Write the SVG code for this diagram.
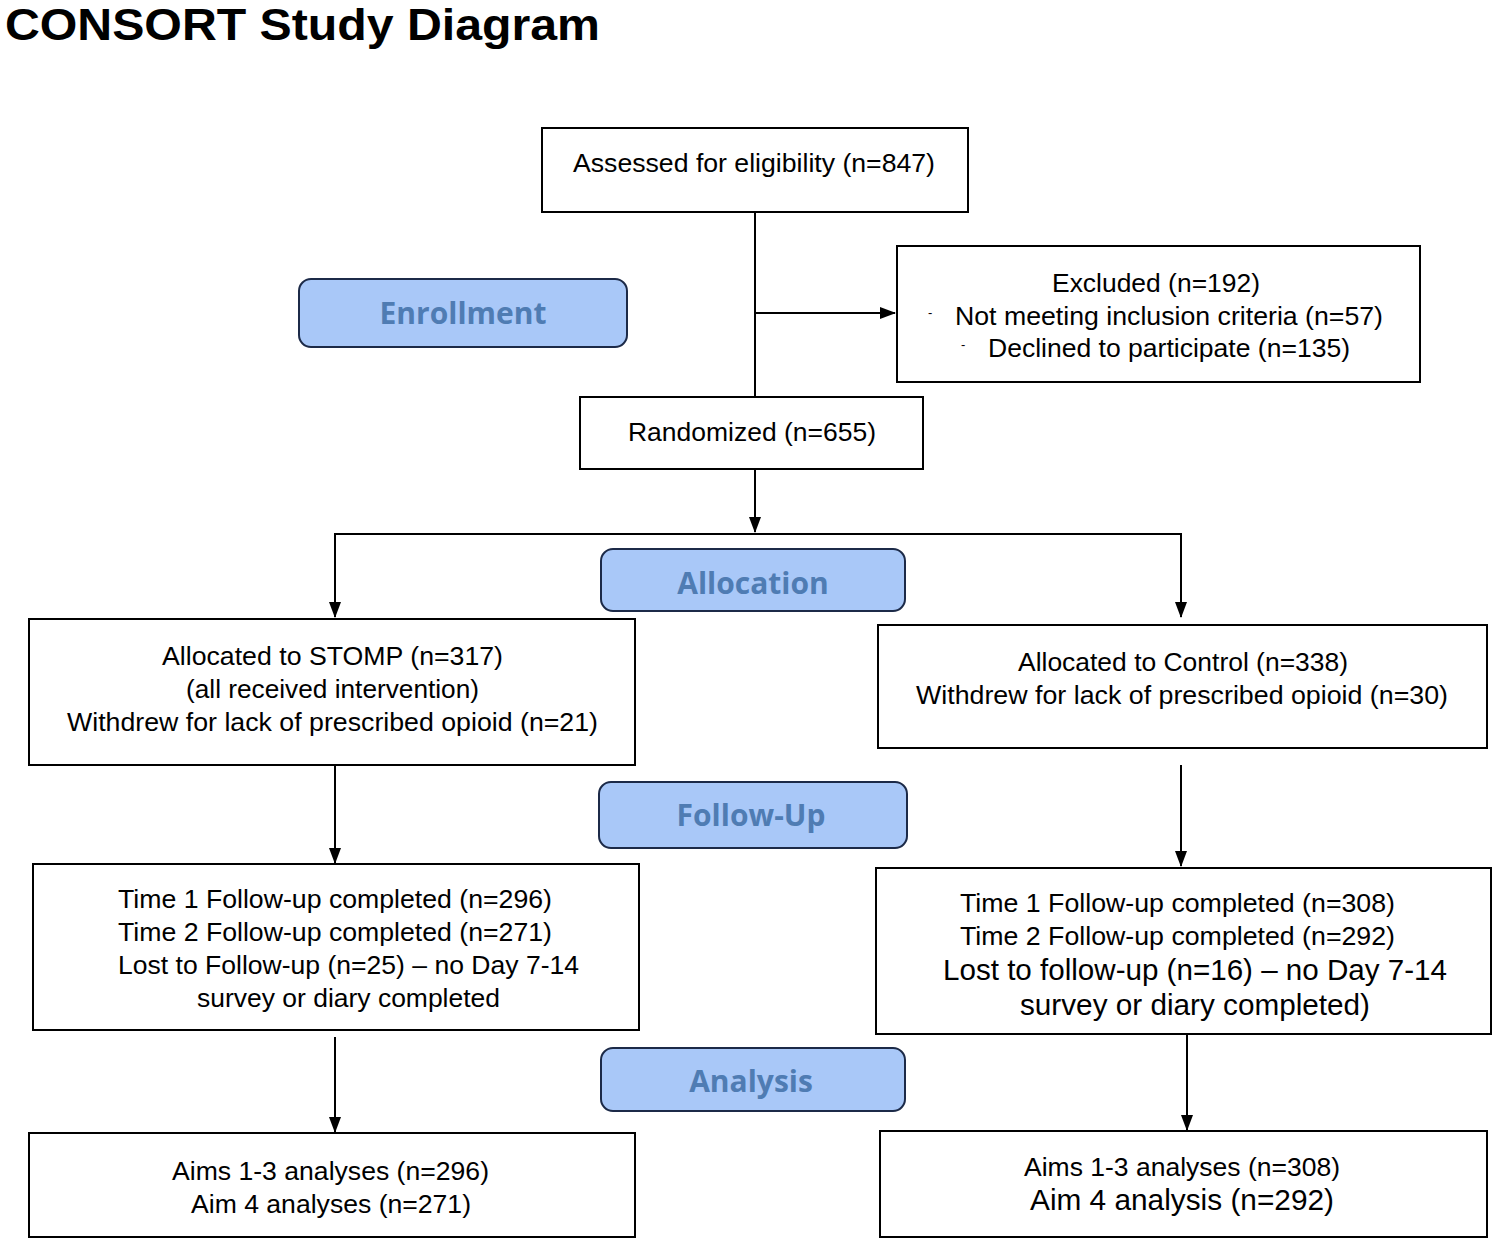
<svg xmlns="http://www.w3.org/2000/svg" width="1496" height="1249" viewBox="0 0 1496 1249">
<style>
.box{fill:#fff;stroke:#000;stroke-width:2}
.lab{fill:#a9c8f8;stroke:#1c2a48;stroke-width:2}
.lt{font-family:"Open Sans","Noto Sans",sans-serif;font-weight:bold;font-size:30px;fill:#4f7cb3;text-anchor:middle}
.t{font-family:"Liberation Sans",Arial,sans-serif;font-size:26px;fill:#000}
.tb{font-family:"Liberation Sans",Arial,sans-serif;font-size:30px;fill:#000}
.d{font-family:"Liberation Sans",Arial,sans-serif;font-size:13px;fill:#000}
.title{font-family:"Liberation Sans",Arial,sans-serif;font-weight:bold;font-size:44px;fill:#000}
.c{fill:none;stroke:#000;stroke-width:2}
</style>
<defs>
<marker id="ah" markerWidth="16" markerHeight="14" refX="15" refY="7" orient="auto" markerUnits="userSpaceOnUse">
<path d="M0,1 L16,7 L0,13 Z" fill="#000"/>
</marker>
</defs>
<rect width="1496" height="1249" fill="#fff"/>
<text class="title" x="5" y="40" textLength="595" lengthAdjust="spacingAndGlyphs">CONSORT Study Diagram</text>

<g id="connectors">
<line class="c" x1="755" y1="212" x2="755" y2="397"/>
<line class="c" x1="755" y1="313" x2="895" y2="313" marker-end="url(#ah)"/>
<line class="c" x1="755" y1="469" x2="755" y2="532" marker-end="url(#ah)"/>
<polyline class="c" points="335,617 335,534 1181,534 1181,617"/>
<line class="c" x1="335" y1="600" x2="335" y2="617" marker-end="url(#ah)"/>
<line class="c" x1="1181" y1="600" x2="1181" y2="617" marker-end="url(#ah)"/>
<line class="c" x1="335" y1="765" x2="335" y2="863" marker-end="url(#ah)"/>
<line class="c" x1="1181" y1="765" x2="1181" y2="866" marker-end="url(#ah)"/>
<line class="c" x1="335" y1="1037" x2="335" y2="1132" marker-end="url(#ah)"/>
<line class="c" x1="1187" y1="1034" x2="1187" y2="1130" marker-end="url(#ah)"/>
</g>

<g id="assessed">
<rect class="box" x="542" y="128" width="426" height="84"/>
<text class="t" x="573" y="172" textLength="362" lengthAdjust="spacingAndGlyphs">Assessed for eligibility (n=847)</text>
</g>

<g id="enrollment">
<rect class="lab" x="299" y="279" width="328" height="68" rx="12"/>
<text class="lt" x="463" y="324">Enrollment</text>
</g>

<g id="excluded">
<rect class="box" x="897" y="246" width="523" height="136"/>
<text class="t" x="1052" y="292" textLength="208" lengthAdjust="spacingAndGlyphs">Excluded (n=192)</text>
<text class="d" x="928" y="317">-</text>
<text class="t" x="955" y="325" textLength="428" lengthAdjust="spacingAndGlyphs">Not meeting inclusion criteria (n=57)</text>
<text class="d" x="961" y="349">-</text>
<text class="t" x="988" y="357" textLength="362" lengthAdjust="spacingAndGlyphs">Declined to participate (n=135)</text>
</g>

<g id="randomized">
<rect class="box" x="580" y="397" width="343" height="72"/>
<text class="t" x="628" y="441" textLength="248" lengthAdjust="spacingAndGlyphs">Randomized (n=655)</text>
</g>

<g id="allocation">
<rect class="lab" x="601" y="549" width="304" height="62" rx="12"/>
<text class="lt" x="753" y="594">Allocation</text>
</g>

<g id="stomp">
<rect class="box" x="29" y="619" width="606" height="146"/>
<text class="t" x="162" y="665" textLength="341" lengthAdjust="spacingAndGlyphs">Allocated to STOMP (n=317)</text>
<text class="t" x="186" y="698" textLength="293" lengthAdjust="spacingAndGlyphs">(all received intervention)</text>
<text class="t" x="67" y="731" textLength="531" lengthAdjust="spacingAndGlyphs">Withdrew for lack of prescribed opioid (n=21)</text>
</g>

<g id="control">
<rect class="box" x="878" y="625" width="609" height="123"/>
<text class="t" x="1018" y="671" textLength="330" lengthAdjust="spacingAndGlyphs">Allocated to Control (n=338)</text>
<text class="t" x="916" y="704" textLength="532" lengthAdjust="spacingAndGlyphs">Withdrew for lack of prescribed opioid (n=30)</text>
</g>

<g id="followup">
<rect class="lab" x="599" y="782" width="308" height="66" rx="12"/>
<text class="lt" x="751" y="826">Follow-Up</text>
</g>

<g id="fu-stomp">
<rect class="box" x="33" y="864" width="606" height="166"/>
<text class="t" x="118" y="908" textLength="434" lengthAdjust="spacingAndGlyphs">Time 1 Follow-up completed (n=296)</text>
<text class="t" x="118" y="941" textLength="434" lengthAdjust="spacingAndGlyphs">Time 2 Follow-up completed (n=271)</text>
<text class="t" x="118" y="974" textLength="461" lengthAdjust="spacingAndGlyphs">Lost to Follow-up (n=25) – no Day 7-14</text>
<text class="t" x="197" y="1007" textLength="303" lengthAdjust="spacingAndGlyphs">survey or diary completed</text>
</g>

<g id="fu-control">
<rect class="box" x="876" y="868" width="615" height="166"/>
<text class="t" x="960" y="912" textLength="435" lengthAdjust="spacingAndGlyphs">Time 1 Follow-up completed (n=308)</text>
<text class="t" x="960" y="945" textLength="435" lengthAdjust="spacingAndGlyphs">Time 2 Follow-up completed (n=292)</text>
<text class="tb" x="943" y="980" textLength="504" lengthAdjust="spacingAndGlyphs">Lost to follow-up (n=16) – no Day 7-14</text>
<text class="tb" x="1020" y="1015" textLength="350" lengthAdjust="spacingAndGlyphs">survey or diary completed)</text>
</g>

<g id="analysis">
<rect class="lab" x="601" y="1048" width="304" height="63" rx="12"/>
<text class="lt" x="751" y="1092">Analysis</text>
</g>

<g id="an-stomp">
<rect class="box" x="29" y="1133" width="606" height="104"/>
<text class="t" x="172" y="1180" textLength="317" lengthAdjust="spacingAndGlyphs">Aims 1-3 analyses (n=296)</text>
<text class="t" x="191" y="1213" textLength="280" lengthAdjust="spacingAndGlyphs">Aim 4 analyses (n=271)</text>
</g>

<g id="an-control">
<rect class="box" x="880" y="1131" width="607" height="106"/>
<text class="t" x="1024" y="1176" textLength="316" lengthAdjust="spacingAndGlyphs">Aims 1-3 analyses (n=308)</text>
<text class="tb" x="1030" y="1210" textLength="304" lengthAdjust="spacingAndGlyphs">Aim 4 analysis (n=292)</text>
</g>
</svg>
